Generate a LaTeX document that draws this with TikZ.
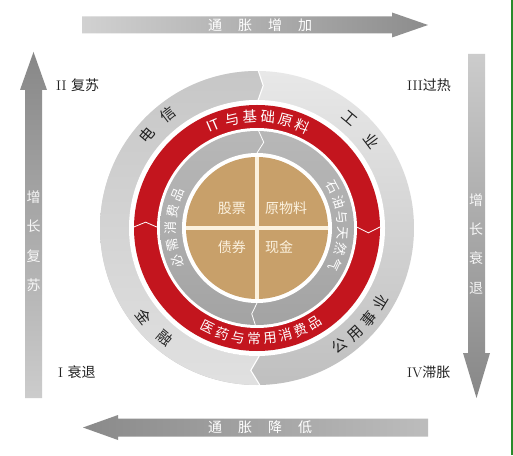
\documentclass[tikz,border=0pt]{standalone}
\usepackage{fontspec}
\newfontfamily\cjk{Noto Sans CJK SC}
\definecolor{ringred}{HTML}{C3151E}
\definecolor{tan}{HTML}{C8A06A}
\definecolor{cream}{HTML}{FBF1DE}
\definecolor{edgegreen}{HTML}{2A8A2A}
\definecolor{labelc}{HTML}{222222}
\newcommand\arcchars[6]{% #1 radius, #2 start angle, #3 step, #4 rot offset, #5 name prefix, #6 list
  \foreach \c [count=\i from 0] in {#6} {
    \pgfmathsetmacro\ang{#2+\i*(#3)}
    \pgfmathsetmacro\rot{\ang+(#4)}
    \node[rotate=\rot, name=#5\i] at (\ang:#1) {\c};
  }}
\begin{document}
\begin{tikzpicture}[x=1pt,y=1pt,
  cj/.style={inner sep=0pt, font={\cjk\fontsize{#1}{#1}\selectfont}},
  lab/.style={inner sep=0pt, text=labelc, font={\fontsize{14}{14}\selectfont}},
  chev/.style={white, line width=1.1pt, line join=miter}]
\useasboundingbox (0,0) rectangle (513,455);
\fill[white] (0,0) rectangle (513,455);
\draw[edgegreen, line width=2pt] (512,0) -- (512,455);

% ---- outer arrows ----
\shade[left color=black!18, right color=black!45]
  (82,421.5) -- (392,421.5) -- (392,417.5) -- (428,430) -- (392,442.5) -- (392,438.5) -- (82,438.5) -- cycle;
\shade[left color=black!46, right color=black!26]
  (428,18.5) -- (118,18.5) -- (118,15) -- (83,27.5) -- (118,40) -- (118,36.5) -- (428,36.5) -- cycle;
\shade[top color=black!47, bottom color=black!20]
  (25,57) -- (25,365) -- (20,365) -- (33.5,403) -- (47,365) -- (42,365) -- (42,57) -- cycle;
\shade[top color=black!20, bottom color=black!47]
  (468,401) -- (468,102) -- (463,102) -- (476.5,57) -- (490,102) -- (485,102) -- (485,401) -- cycle;

\foreach \c [count=\i from 0] in {通,胀,增,加}
  \node[cj=14, text=white, name=ta\i] at (215+30*\i,430) {\c};
\foreach \c [count=\i from 0] in {通,胀,降,低}
  \node[cj=14, text=white, name=ba\i] at (215+30*\i,27.5) {\c};
\foreach \c [count=\i from 0] in {增,长,复,苏}
  \node[cj=14, text=white, opacity=.9, name=la\i] at (33.5,258-29.5*\i) {\c};
\foreach \c [count=\i from 0] in {增,长,衰,退}
  \node[cj=14, text=white, opacity=.9, name=ra\i] at (476,255-29.3*\i) {\c};

% ---- corner labels ----
\node[lab, anchor=west] (q2) at (56,370) {II {\cjk 复苏}};
\node[lab, anchor=west] (q3) at (407,370) {III{\cjk 过热}};
\node[lab, anchor=west] (q1) at (58,83) {I {\cjk 衰退}};
\node[lab, anchor=west] (q4) at (407,83) {IV{\cjk 滞胀}};

% ---- the clock ----
\begin{scope}[shift={(257,227)}]
  % outer gray ring
  \shade[top color=black!9, bottom color=black!25] (0,0) circle[radius=157];
  \shade[top color=black!22, bottom color=black!12]
    (89.5:157) arc[start angle=89.5, end angle=271, radius=157]
    -- (267.5:142.5) -- (271:128)
    arc[start angle=271, end angle=89.5, radius=128]
    -- (87.5:142.5) -- cycle;
  \draw[chev] (89.5:157) -- (87.5:142.5) -- (89.5:128);
  \draw[chev] (271:157) -- (267.5:142.5) -- (271:128);
  \fill[white] (0,0) circle[radius=128];
  % red ring
  \fill[ringred] (0,0) circle[radius=123];
  \fill[white] (0,0) circle[radius=100];
  \draw[chev, line width=0.8pt] (179.5:123) -- (177:111.5) -- (179.5:100);
  \draw[chev, line width=0.8pt] (0.5:123) -- (-2.5:111.5) -- (0.5:100);
  % inner gray ring
  \shade[top color=black!28, bottom color=black!36] (0,0) circle[radius=97];
  \fill[white] (0,0) circle[radius=75];
  \draw[chev, line width=0.8pt] (89:97) -- (85.5:86) -- (90:75);
  \draw[chev, line width=0.8pt] (269:97) -- (266.5:86) -- (270:75);
  % tan core
  \fill[tan] (0,0) circle[radius=71];
  \draw[cream, line width=4pt] (0,-71) -- (0,71);
  \draw[cream, line width=4pt] (-71,0) -- (71,0);
  \node[cj=14, text=cream, anchor=east] (gp) at (-11,20) {股票};
  \node[cj=14, text=cream, anchor=west] (ywl) at (8,20) {原物料};
  \node[cj=14, text=cream, anchor=east] (zq) at (-11,-19) {债券};
  \node[cj=14, text=cream, anchor=west] (xj) at (8,-19) {现金};

  % outer ring words
  \begin{scope}[every node/.style={cj=15, text=labelc}]
    \arcchars{144}{140}{-12}{-90}{dx}{电,信}
    \arcchars{144}{50}{-13}{-90}{gy}{工,业}
    \arcchars{144}{218}{12}{90}{jr}{金,融}
    \arcchars{144}{-55}{8}{90}{gs}{公,用,事,业}
  \end{scope}
  % red ring words
  \begin{scope}[every node/.style={cj=14.5, text=white}]
    \node[rotate=23, name=it] at (113:111.5) {IT};
    \arcchars{111.5}{103}{-9.3}{-90}{ij}{与,基,础,原,料}
  \end{scope}
  \begin{scope}[every node/.style={cj=13.5, text=white}]
    \arcchars{111}{243.5}{8.3}{90}{yy}{医,药,与,常,用,消,费,品}
  \end{scope}
  % inner gray ring words
  \begin{scope}[every node/.style={cj=13, text=white}]
    \arcchars{86}{28}{-10.6}{-90}{sy}{石,油,与,天,然,气}
    \arcchars{86}{203}{-11.5}{-90}{bx}{必,需,消,费,品}
  \end{scope}
\end{scope}
\end{tikzpicture}
\end{document}
